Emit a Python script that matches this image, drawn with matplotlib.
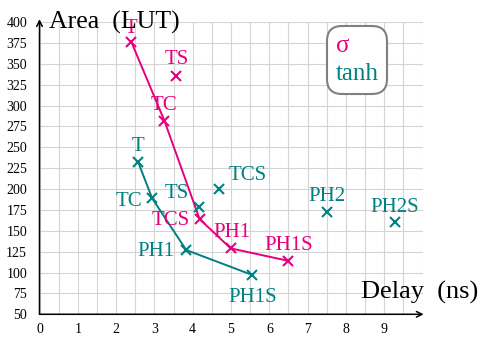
import matplotlib
matplotlib.use("Agg")
import matplotlib.pyplot as plt
from matplotlib.lines import Line2D

plt.rcParams['font.family'] = ['Liberation Serif', 'DejaVu Serif']

PINK = '#E6007E'
TEAL = '#008080'

# sigma activation
sig_names = ["T", "TC", "TCS", "PH1", "PH1S", "TS"]
sig_delay = [2.40, 3.26, 4.18, 4.99, 6.50, 3.57]
sig_area = [376, 282, 164, 129, 114, 336]
sig_front = ["T", "TC", "TCS", "PH1", "PH1S"]

# tanh activation
tanh_names = ["T", "TC", "PH1", "PH1S", "TS", "TCS", "PH2", "PH2S"]
tanh_delay = [2.57, 2.94, 3.83, 5.56, 4.16, 4.68, 7.51, 9.27]
tanh_area = [233, 189, 127, 97, 178, 200, 173, 160]
tanh_front = ["T", "TC", "PH1", "PH1S"]

# label placement (pixel offsets from the marker, alignment)
sig_lbl = {"T": (0, 9.5, 'center'), "TC": (0, 10.5, 'center'), "TCS": (-10, -5.5, 'right'),
           "PH1": (1, 11.5, 'center'), "PH1S": (0, 10.5, 'center'), "TS": (1, 11.5, 'center')}
tanh_lbl = {"T": (0, 10.5, 'center'), "TC": (-10, -7.5, 'right'), "PH1": (-12, -5.5, 'right'),
            "PH1S": (0, -26.5, 'center'), "TS": (-10, 9.5, 'right'), "TCS": (10, 9.5, 'left'),
            "PH2": (0, 10.5, 'center'), "PH2S": (0, 10.5, 'center')}

fig = plt.figure(figsize=(4.8, 3.37), dpi=100)
ax = fig.add_axes([0.0823, 0.0674, 0.798, 0.867])
ax.set_xlim(0, 10)
ax.set_ylim(50, 400)

ax.set_xticks(range(0, 10))
ax.set_xticks([i + 0.5 for i in range(10)] + [10], minor=True)
ax.set_yticks(range(50, 401, 25))
ax.grid(True, which='both', color='#d4d4d4', linewidth=0.8)
ax.set_axisbelow(True)
ax.tick_params(which='both', length=0, labelsize=10)
ax.tick_params(axis='y', pad=9)
ax.tick_params(axis='x', pad=6)
for s in ax.spines.values():
    s.set_visible(False)


def front(names, xs, ys, keep):
    idx = [names.index(k) for k in keep]
    return [xs[i] for i in idx], [ys[i] for i in idx]


fx, fy = front(sig_names, sig_delay, sig_area, sig_front)
ax.plot(fx, fy, color=PINK, lw=1.4, zorder=3)
fx, fy = front(tanh_names, tanh_delay, tanh_area, tanh_front)
ax.plot(fx, fy, color=TEAL, lw=1.4, zorder=3)

ax.plot(sig_delay, sig_area, 'x', color=PINK, ms=7, mew=1.5, zorder=4)
ax.plot(tanh_delay, tanh_area, 'x', color=TEAL, ms=7, mew=1.5, zorder=4)

for n, x, y in zip(sig_names, sig_delay, sig_area):
    dx, dy, ha = sig_lbl[n]
    ax.annotate(n, (x, y), xytext=(dx, dy), textcoords='offset pixels',
                ha=ha, va='baseline', color=PINK, fontsize=15, zorder=5)
for n, x, y in zip(tanh_names, tanh_delay, tanh_area):
    dx, dy, ha = tanh_lbl[n]
    ax.annotate(n, (x, y), xytext=(dx, dy), textcoords='offset pixels',
                ha=ha, va='baseline', color=TEAL, fontsize=15, zorder=5)

# axis arrows
ax.annotate('', xy=(0, 1.01), xytext=(0, 0), xycoords='axes fraction',
            arrowprops=dict(arrowstyle='->', color='black', lw=1.1, shrinkA=0, shrinkB=0))
ax.annotate('', xy=(1.003, 0), xytext=(0, 0), xycoords='axes fraction',
            arrowprops=dict(arrowstyle='->', color='black', lw=1.1, shrinkA=0, shrinkB=0))

fig.text(49 / 480, 1 - 28.5 / 337, 'Area  (LUT)', fontsize=18.5, ha='left', va='baseline')
fig.text(478 / 480, 1 - 299 / 337, 'Delay  (ns)', fontsize=19, ha='right', va='baseline')

handles = [Line2D([], [], linestyle='none'), Line2D([], [], linestyle='none')]
leg = ax.legend(handles, ['σ', 'tanh'], loc='upper left', bbox_to_anchor=(0.75, 0.986),
                borderaxespad=0, handlelength=0, handletextpad=0, fontsize=18,
                labelcolor=[PINK, TEAL], fancybox=True, framealpha=1,
                edgecolor='#808080', borderpad=0.35, labelspacing=0.2)
leg.get_frame().set_linewidth(1.5)
leg.get_frame().set_boxstyle('round', pad=0.0, rounding_size=0.6)

fig.savefig('out.png', dpi=100)
